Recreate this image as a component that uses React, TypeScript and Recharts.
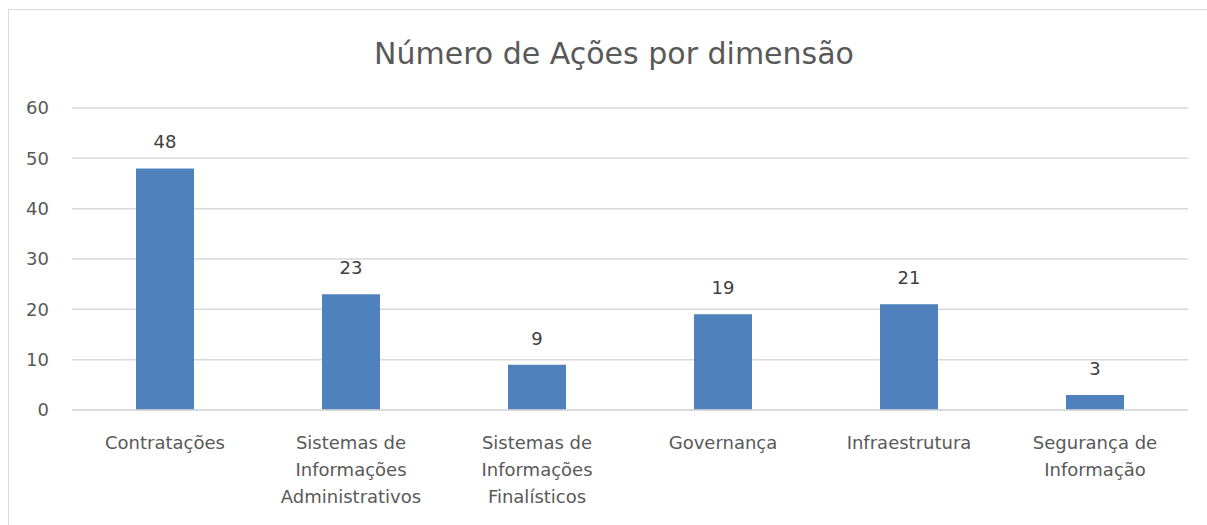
import React from 'react';
import { BarChart, Bar, XAxis, YAxis, CartesianGrid, LabelList } from 'recharts';

const categories = [
  'Contratações',
  'Sistemas de\nInformações\nAdministrativos',
  'Sistemas de\nInformações\nFinalísticos',
  'Governança',
  'Infraestrutura',
  'Segurança de\nInformação',
];
const acoes = [48, 23, 9, 19, 21, 3];
const yTicks = [0, 10, 20, 30, 40, 50, 60];

const data = categories.map((name, i) => ({ name, acoes: acoes[i] }));

const FONT = '"DejaVu Sans", "Open Sans", sans-serif';
const TEXT = '#595959';

// splits category on \n, one tspan per line
const CategoryTick = (props: any) => {
  const { x, y, payload } = props;
  const lines = String(payload.value).split('\n');
  return (
    <text x={x} y={y} textAnchor="middle" fill={TEXT} fontSize={18} fontFamily={FONT}>
      {lines.map((l, i) => (
        <tspan key={i} x={x} dy={i === 0 ? 31 : 27}>
          {l}
        </tspan>
      ))}
    </text>
  );
};

export default function App() {
  return (
    <div
      style={{
        position: 'fixed',
        left: 8,
        top: 9,
        width: 1220,
        height: 540,
        border: '1px solid #d9d9d9',
        overflow: 'hidden',
        background: '#fff',
      }}
    >
      <div
        style={{
          position: 'absolute',
          left: 0,
          width: 1210,
          top: 26,
          textAlign: 'center',
          fontFamily: FONT,
          fontSize: 30,
          color: TEXT,
        }}
      >
        Número de Ações por dimensão
      </div>
      <BarChart
        width={1200}
        height={520}
        data={data}
        margin={{ top: 98, right: 21, left: 23, bottom: 0 }}
      >
        <CartesianGrid vertical={false} stroke="#d9d9d9" strokeWidth={1.5} />
        <XAxis
          dataKey="name"
          tick={<CategoryTick />}
          tickLine={false}
          axisLine={{ stroke: '#d9d9d9', strokeWidth: 1.5 }}
          interval={0}
          height={120}
        />
        <YAxis
          width={40}
          domain={[0, 60]}
          ticks={yTicks}
          tickLine={false}
          axisLine={false}
          tickSize={0}
          tickMargin={23}
          tick={{ fill: TEXT, fontSize: 18, fontFamily: FONT }}
        />
        <Bar dataKey="acoes" fill="#4f81bd" barSize={58} isAnimationActive={false}>
          <LabelList
            dataKey="acoes"
            position="top"
            offset={20}
            fill="#404040"
            fontSize={18}
            fontFamily={FONT}
          />
        </Bar>
      </BarChart>
    </div>
  );
}
